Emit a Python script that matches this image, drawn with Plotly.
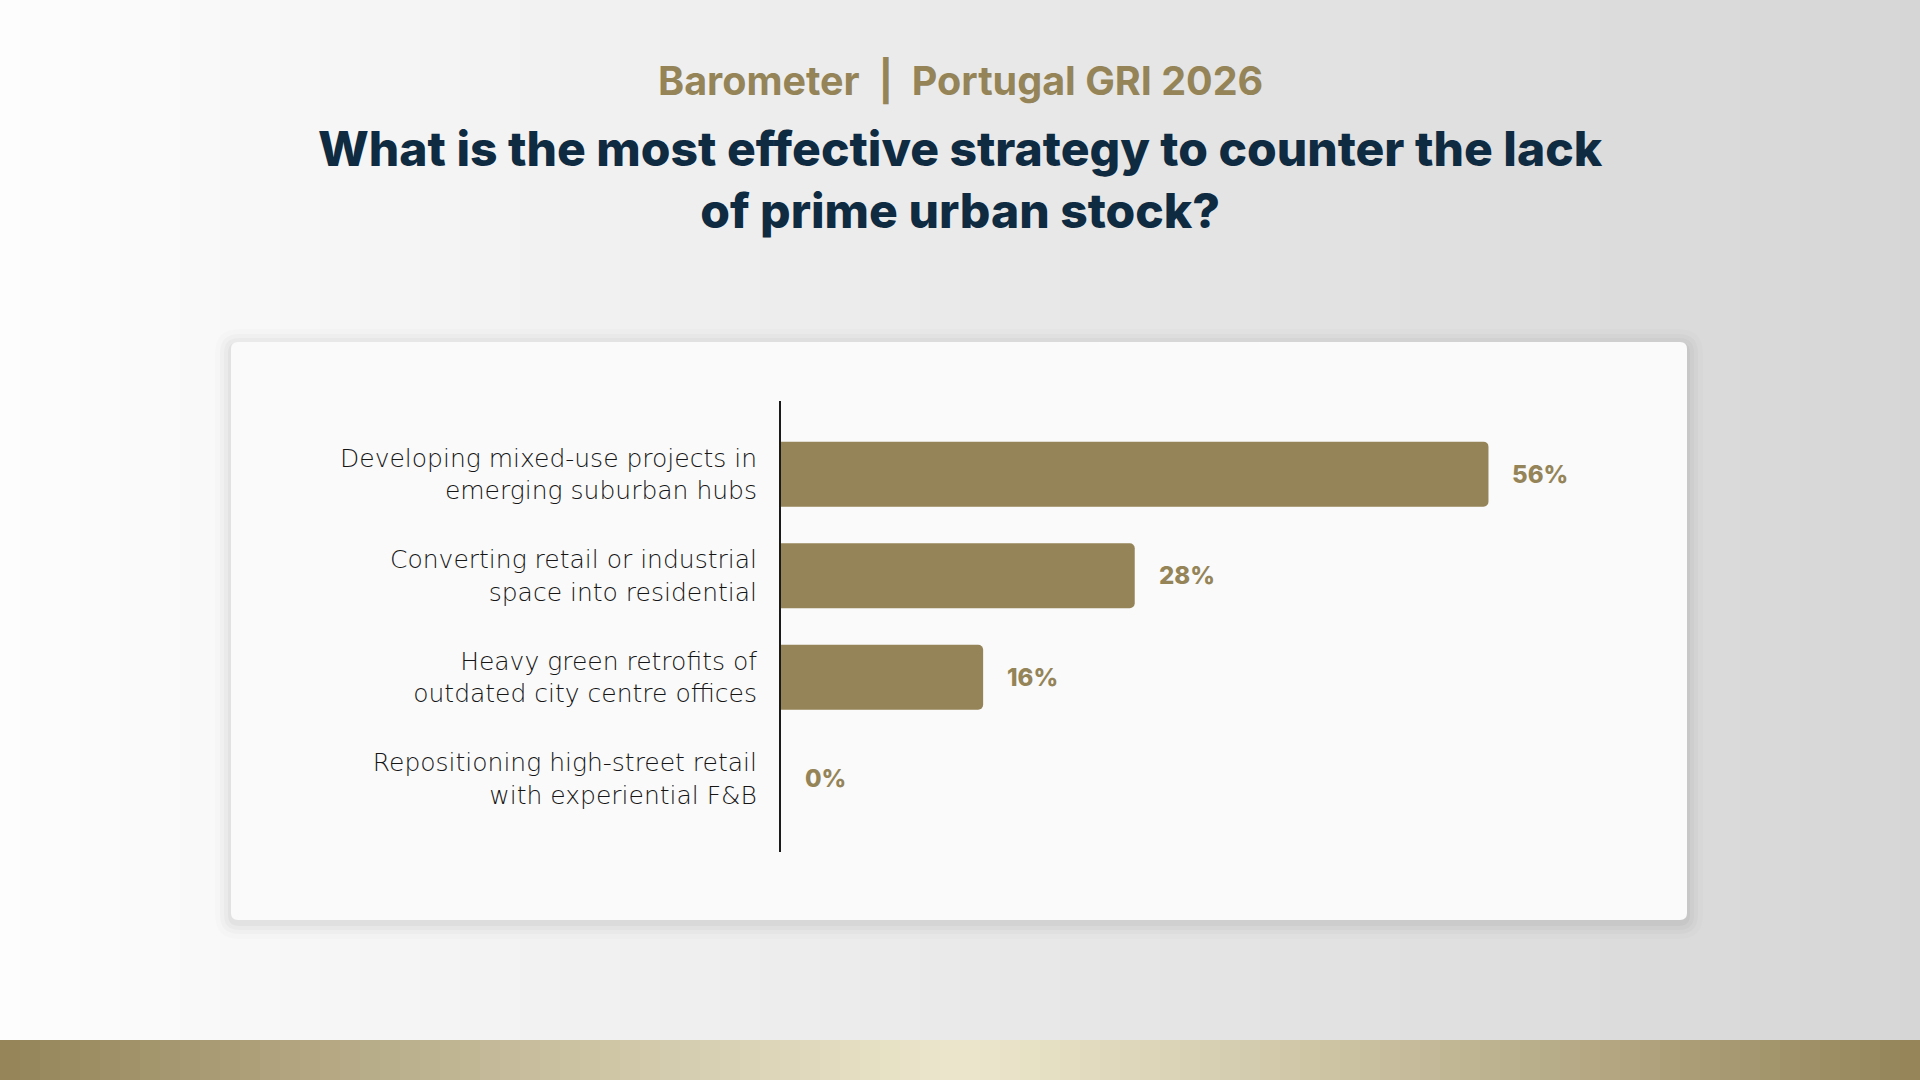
import plotly.graph_objects as go

W, H = 1920, 1080

categories = [
    "Developing mixed-use projects in<br>emerging suburban hubs",
    "Converting retail or industrial<br>space into residential",
    "Heavy green retrofits of<br>outdated city centre offices",
    "Repositioning high-street retail<br>with experiential F&B",
]
shares = [56, 28, 16, 0]
share_labels = ["56%", "28%", "16%", "0%"]

subtitle = "Barometer  |  Portugal GRI 2026"
title = "What is the most effective strategy to counter the lack<br>of prime urban stock?"

GOLD = "#948458"
NAVY = "#0f2b42"
FONT = "Inter"
LABEL_FONT = "DejaVu Sans"


def px(x):
    return x / W


def py(y):
    return 1 - y / H


def mix(c1, c2, t):
    a = [int(c1[i:i + 2], 16) for i in (1, 3, 5)]
    b = [int(c2[i:i + 2], 16) for i in (1, 3, 5)]
    return "#%02x%02x%02x" % tuple(round(a[k] + (b[k] - a[k]) * t) for k in range(3))


shapes = []

# page background, light to grey from left to right
n = 96
for i in range(n):
    shapes.append(dict(type="rect", xref="paper", yref="paper", layer="below",
                       x0=i / n, x1=(i + 1) / n + 0.002, y0=0, y1=1,
                       fillcolor=mix("#fdfdfd", "#d6d6d6", (i + 0.5) / n),
                       line_width=0))

# gold band at the bottom, bright in the middle
for i in range(n):
    t = abs((i + 0.5) / n - 0.5) * 2
    shapes.append(dict(type="rect", xref="paper", yref="paper", layer="below",
                       x0=i / n, x1=(i + 1) / n + 0.002, y0=0, y1=py(1040),
                       fillcolor=mix("#ece6cd", GOLD, t ** 1.1),
                       line_width=0))


def rounded(x0, y0, x1, y1, r):
    # pixel box -> paper path with rounded corners
    rx, ry = r / W, r / H
    a, b, c, d = px(x0), py(y1), px(x1), py(y0)
    return (f"M {a + rx},{b} L {c - rx},{b} Q {c},{b} {c},{b + ry} "
            f"L {c},{d - ry} Q {c},{d} {c - rx},{d} L {a + rx},{d} "
            f"Q {a},{d} {a},{d - ry} L {a},{b + ry} Q {a},{b} {a + rx},{b} Z")


# soft shadow and white card
for k, op in [(16, 0.012), (11, 0.018), (7, 0.024), (3, 0.03)]:
    shapes.append(dict(type="path", xref="paper", yref="paper", layer="below",
                       path=rounded(231 - k, 342 - k + 3, 1687 + k, 920 + k + 3, 8 + k),
                       fillcolor=f"rgba(0,0,0,{op})", line_width=0))
shapes.append(dict(type="path", xref="paper", yref="paper", layer="below",
                   path=rounded(231, 342, 1687, 920, 7),
                   fillcolor="#fafafa", line_width=0))

fig = go.Figure()
fig.add_trace(go.Bar(
    x=shares, y=categories, orientation="h",
    marker=dict(color=GOLD, cornerradius=5, line_width=0),
    hoverinfo="skip",
))

annotations = [
    dict(x=v, y=c, text=t, xref="x", yref="y", xanchor="left", yanchor="middle",
         xshift=22, showarrow=False,
         font=dict(family=FONT, size=24, color=GOLD, weight=800))
    for v, c, t in zip(shares, categories, share_labels)
]
annotations.append(dict(x=0.5, y=py(81), xref="paper", yref="paper", text=subtitle,
                        showarrow=False, xanchor="center", yanchor="middle",
                        font=dict(family=FONT, size=39.5, color=GOLD, weight=700)))
annotations.append(dict(x=0.5, y=py(179), xref="paper", yref="paper", text=title,
                        showarrow=False, xanchor="center", yanchor="middle",
                        font=dict(family=FONT, size=48, color=NAVY, weight=800)))

fig.update_layout(
    width=W, height=H,
    margin=dict(l=0, r=0, t=0, b=0),
    paper_bgcolor="#f0f0f0", plot_bgcolor="rgba(0,0,0,0)",
    bargap=0.36, showlegend=False,
    shapes=shapes, annotations=annotations,
    xaxis=dict(domain=[px(781), px(1539)], range=[0, 60], visible=False, fixedrange=True),
    yaxis=dict(domain=[py(852), py(401)], range=[3.72, -0.72],
               showline=True, linecolor="#1a1a1a", linewidth=2,
               showgrid=False, zeroline=False, ticks="", ticklabelstandoff=17,
               tickfont=dict(family=LABEL_FONT, size=25, color="#151515", weight=200),
               fixedrange=True),
)

fig.write_html("out.html", config={"displayModeBar": False},
               post_script="document.body.style.margin='0';")
